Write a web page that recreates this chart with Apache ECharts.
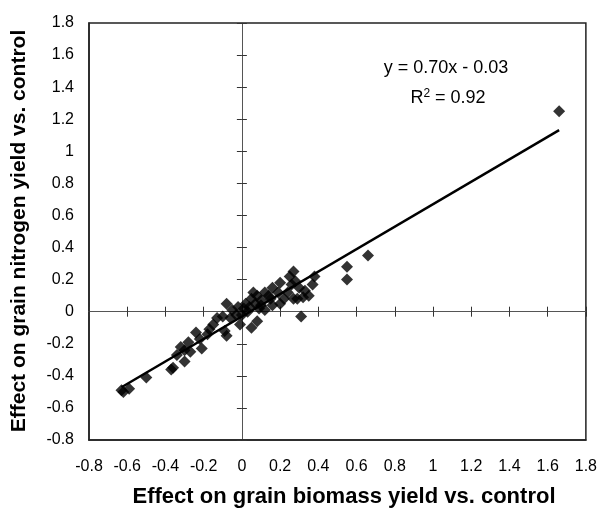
<!DOCTYPE html>
<html>
<head>
<meta charset="utf-8">
<script src="https://cdn.jsdelivr.net/npm/echarts@6/dist/echarts.min.js"></script>
<style>html,body{margin:0;padding:0;background:#fff}#c{width:600px;height:509px}</style>
</head>
<body>
<div id="c"></div>
<script>
var xValues = [1.66,0.66,0.55,0.55,0.38,0.37,0.35,0.32,0.29,0.31,0.27,0.25,0.28,0.26,0.30,0.33,0.22,0.20,0.19,0.16,0.14,0.12,0.16,0.12,0.10,0.08,0.07,0.05,0.04,0.02,0.03,0.01,0.00,0.05,0.08,-0.01,-0.03,-0.05,-0.08,-0.06,-0.10,-0.13,-0.08,-0.09,-0.15,-0.17,-0.18,-0.21,-0.24,-0.22,-0.28,-0.30,-0.34,-0.30,-0.32,-0.36,-0.37,-0.50,-0.59,-0.63,-0.62,-0.27,0.09,0.15,0.24,0.20,0.27,0.10,-0.02,0.06];
var yValues = [1.25,0.35,0.28,0.20,0.22,0.17,0.10,0.09,0.08,-0.03,0.25,0.22,0.19,0.17,0.15,0.13,0.08,0.18,0.12,0.15,0.10,0.12,0.04,0.01,0.07,0.10,0.05,0.08,0.03,0.05,0.00,0.02,-0.02,-0.10,-0.06,-0.08,-0.02,0.01,0.05,-0.04,-0.03,-0.04,-0.15,-0.12,-0.08,-0.11,-0.14,-0.23,-0.13,-0.17,-0.19,-0.24,-0.27,-0.31,-0.22,-0.35,-0.36,-0.41,-0.48,-0.49,-0.50,-0.25,0.02,0.08,0.12,0.05,0.08,0.04,0.03,0.12];
var slope = 0.70, intercept = -0.03, r2 = 0.92;
var axisMin = -0.8, axisMax = 1.8, axisStep = 0.2;
var xTitle = 'Effect on grain biomass yield vs. control';
var yTitle = 'Effect on grain nitrogen yield vs. control';

var pts = xValues.map(function(x,i){return [x,yValues[i]];});
var xmin = Math.min.apply(null,xValues), xmax = Math.max.apply(null,xValues);
var fitLine = [[xmin, slope*xmin+intercept],[xmax, slope*xmax+intercept]];

var font = 'Liberation Sans, Arial, sans-serif';
function baseAxis(extra){
  var a = {type:'value', min:axisMin, max:axisMax, interval:axisStep, splitLine:{show:false}};
  for (var k in extra) a[k]=extra[k];
  return a;
}
var xLabelStyle = {color:'#000', fontSize:16, fontFamily:font, margin:19};
var yLabelStyle = {color:'#000', fontSize:16, fontFamily:font, margin:15};
var option = {
  animation:false,
  grid:{left:89,right:14,top:23,bottom:69,show:true,borderColor:'#222',borderWidth:1.5},
  xAxis:[
    baseAxis({position:'bottom', axisLine:{show:true,onZero:false,lineStyle:{color:'#222',width:1.5}}, axisTick:{show:false}, axisLabel:xLabelStyle}),
    baseAxis({position:'bottom', axisLine:{show:true,onZero:true,onZeroAxisIndex:1,lineStyle:{color:'#555'}}, axisTick:{show:true,inside:false,length:5,lineStyle:{color:'#333'}}, axisLabel:{show:false}}),
    baseAxis({position:'top', axisLine:{show:true,onZero:true,onZeroAxisIndex:1,lineStyle:{color:'#555'}}, axisTick:{show:true,inside:false,length:5,lineStyle:{color:'#333'}}, axisLabel:{show:false}})
  ],
  yAxis:[
    baseAxis({position:'left', axisLine:{show:true,onZero:false,lineStyle:{color:'#222',width:1.5}}, axisTick:{show:false}, axisLabel:yLabelStyle}),
    baseAxis({position:'left', axisLine:{show:true,onZero:true,onZeroAxisIndex:1,lineStyle:{color:'#555'}}, axisTick:{show:true,inside:false,length:5,lineStyle:{color:'#333'}}, axisLabel:{show:false}}),
    baseAxis({position:'right', axisLine:{show:true,onZero:true,onZeroAxisIndex:1,lineStyle:{color:'#555'}}, axisTick:{show:true,inside:false,length:5,lineStyle:{color:'#333'}}, axisLabel:{show:false}})
  ],
  series:[
    {type:'scatter', xAxisIndex:0, yAxisIndex:0, data:pts, symbol:'diamond', symbolSize:12, itemStyle:{color:'#000'}, z:3},
    {type:'line', xAxisIndex:0, yAxisIndex:0, data:fitLine, showSymbol:false, symbol:'none', lineStyle:{color:'#000',width:2.5}, z:4}
  ],
  graphic:[
    {type:'text', x:344, y:497, style:{text:xTitle, font:'bold 22px '+font, fill:'#000', textAlign:'center', textVerticalAlign:'middle'}},
    {type:'text', x:19, y:231, rotation:Math.PI/2, style:{text:yTitle, font:'bold 21px '+font, fill:'#000', textAlign:'center', textVerticalAlign:'middle'}},
    {type:'text', x:446, y:68, style:{text:'y = ' + slope.toFixed(2) + 'x - ' + Math.abs(intercept).toFixed(2), font:'18px '+font, fill:'#000', textAlign:'center', textVerticalAlign:'middle'}},
    {type:'text', x:448, y:98, style:{text:'{a|R}{s|2}{a| = ' + r2.toFixed(2) + '}', font:'18px '+font, fill:'#000', textAlign:'center', textVerticalAlign:'middle', rich:{a:{fontSize:18,fontFamily:font}, s:{fontSize:12,fontFamily:font,verticalAlign:'top',padding:[0,0,9,0]}}}}
  ]
};
var chart = echarts.init(document.getElementById('c'));
chart.setOption(option);
</script>
</body>
</html>
